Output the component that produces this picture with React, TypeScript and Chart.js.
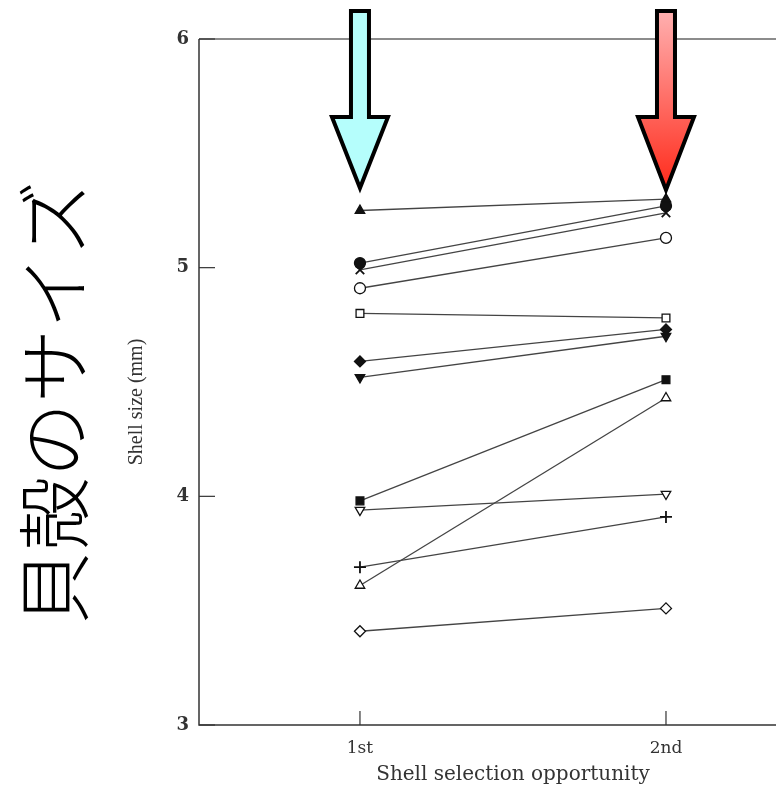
import React, { useEffect, useRef } from "react";
import { Chart, registerables } from "chart.js";

Chart.register(...registerables);

const categories = ["1st", "2nd"];
const firstValues = [5.25, 5.02, 4.99, 4.91, 4.80, 4.59, 4.52, 3.98, 3.94, 3.69, 3.61, 3.41];
const secondValues = [5.30, 5.27, 5.24, 5.13, 4.78, 4.73, 4.70, 4.51, 4.01, 3.91, 4.43, 3.51];
const pointStyles = ["triangle", "circle", "crossRot", "circle", "rect", "rectRot", "triangle", "rect", "triangle", "cross", "triangle", "rectRot"];
const filled = [true, true, true, false, false, true, true, true, false, true, false, false];
const rotations = [0, 0, 0, 0, 0, 0, 180, 0, 180, 0, 0, 0];
const yTicks = [3, 4, 5, 6];
const yTitle = "Shell size (mm)";
const xTitle = "Shell selection opportunity";
const sideLabel = "貝殻のサイズ";

const W = 776;
const H = 789;

const framePlugin = {
  id: "frame",
  afterDraw(chart: any) {
    const { ctx, chartArea } = chart;
    const xs = chart.scales.x;
    const ys = chart.scales.y;
    const { left, right, top, bottom } = chartArea;
    ctx.save();
    // frame
    ctx.lineWidth = 1.5;
    ctx.strokeStyle = "#666";
    ctx.beginPath();
    ctx.moveTo(left, top);
    ctx.lineTo(right, top);
    ctx.stroke();
    ctx.strokeStyle = "#333";
    ctx.beginPath();
    ctx.moveTo(left, top);
    ctx.lineTo(left, bottom);
    ctx.lineTo(right, bottom);
    ctx.stroke();
    // inner ticks
    ctx.lineWidth = 1.2;
    yTicks.forEach((v) => {
      const py = ys.getPixelForValue(v);
      ctx.beginPath();
      ctx.moveTo(left, py);
      ctx.lineTo(left + 16, py);
      ctx.stroke();
    });
    categories.forEach((_, i) => {
      const px = xs.getPixelForValue(i + 1);
      ctx.beginPath();
      ctx.moveTo(px, bottom);
      ctx.lineTo(px, bottom - 14);
      ctx.stroke();
    });
    ctx.restore();

    // x axis title (centred between the two categories' midpoint frame)
    const x1 = xs.getPixelForValue(1);
    const x2 = xs.getPixelForValue(2);
    ctx.save();
    ctx.fillStyle = "#333";
    ctx.font = '20px "DejaVu Serif"';
    ctx.textAlign = "center";
    ctx.textBaseline = "middle";
    ctx.fillText(xTitle, (x1 + x2) / 2, 775);
    ctx.restore();

    // y axis title
    ctx.save();
    ctx.translate(137, 402);
    ctx.rotate(-Math.PI / 2);
    ctx.fillStyle = "#333";
    ctx.font = '20px "Liberation Serif"';
    ctx.textAlign = "center";
    ctx.textBaseline = "middle";
    ctx.fillText(yTitle, 0, 0);
    ctx.restore();

    // side Japanese label
    ctx.save();
    ctx.translate(54, 403);
    ctx.rotate(-Math.PI / 2);
    ctx.fillStyle = "#000";
    ctx.font = '300 74px "Noto Sans CJK JP"';
    ctx.textAlign = "center";
    ctx.textBaseline = "middle";
    ctx.fillText(sideLabel, 0, 0);
    ctx.restore();

    // arrows
    const drawArrow = (cx: number, tipY: number, fill: any) => {
      const shaftTop = 11;
      const headTop = 117;
      const sw = 9;
      const hw = 28;
      ctx.save();
      ctx.beginPath();
      ctx.moveTo(cx - sw, shaftTop);
      ctx.lineTo(cx + sw, shaftTop);
      ctx.lineTo(cx + sw, headTop);
      ctx.lineTo(cx + hw, headTop);
      ctx.lineTo(cx, tipY);
      ctx.lineTo(cx - hw, headTop);
      ctx.lineTo(cx - sw, headTop);
      ctx.closePath();
      ctx.fillStyle = fill;
      ctx.fill();
      ctx.lineWidth = 4;
      ctx.lineJoin = "miter";
      ctx.strokeStyle = "#000";
      ctx.stroke();
      ctx.restore();
    };
    drawArrow(x1, 188, "#b5fefc");
    const g = ctx.createLinearGradient(0, 11, 0, 190);
    g.addColorStop(0, "#ffb0b0");
    g.addColorStop(1, "#ff2a1a");
    drawArrow(x2, 190, g);
  },
};

export default function App() {
  const ref = useRef<HTMLCanvasElement | null>(null);
  useEffect(() => {
    if (!ref.current) return;
    const datasets = firstValues.map((v, i) => ({
      label: "s" + (i + 1),
      data: [
        { x: 1, y: v },
        { x: 2, y: secondValues[i] },
      ],
      borderColor: "#444",
      borderWidth: 1.3,
      pointStyle: pointStyles[i],
      pointRotation: rotations[i],
      pointRadius: pointStyles[i] === "cross" || pointStyles[i] === "crossRot" ? 6 : 5.5,
      pointBorderWidth: pointStyles[i] === "cross" || pointStyles[i] === "crossRot" ? 1.8 : 1.3,
      pointBorderColor: "#111",
      pointBackgroundColor: filled[i] ? "#111" : "#fff",
      showLine: true,
      fill: false,
    }));
    const chart = new Chart(ref.current, {
      type: "scatter",
      data: { datasets },
      options: {
        animation: false,
        responsive: false,
        devicePixelRatio: 1,
        layout: { autoPadding: false, padding: { top: 39, left: 0, right: 0, bottom: 0 } },
        plugins: { legend: { display: false }, tooltip: { enabled: false } },
        scales: {
          x: {
            type: "linear",
            min: 0.474,
            max: 2.3595,
            grid: { display: false, drawTicks: false },
            border: { display: false },
            afterBuildTicks: (s: any) => {
              s.ticks = categories.map((_, i) => ({ value: i + 1 }));
            },
            afterFit: (s: any) => {
              s.height = 64;
            },
            ticks: {
              callback: (v: any) => categories[Math.round(v) - 1] ?? "",
              font: { family: "DejaVu Serif", size: 17 },
              color: "#333",
              padding: 13,
              maxRotation: 0,
            },
          },
          y: {
            min: 3,
            max: 6,
            grid: { display: false, drawTicks: false },
            border: { display: false },
            afterBuildTicks: (s: any) => {
              s.ticks = yTicks.map((v) => ({ value: v }));
            },
            afterFit: (s: any) => {
              s.width = 199;
            },
            ticks: {
              font: { family: "DejaVu Serif", size: 18, weight: "bold" },
              color: "#333",
              padding: 10,
            },
          },
        },
      },
      plugins: [framePlugin],
    });
    return () => chart.destroy();
  }, []);
  return (
    <div style={{ position: "absolute", left: 0, top: 0, width: W, height: H, background: "#fff" }}>
      <canvas ref={ref} width={W} height={H} style={{ display: "block", width: W, height: H }} />
    </div>
  );
}
